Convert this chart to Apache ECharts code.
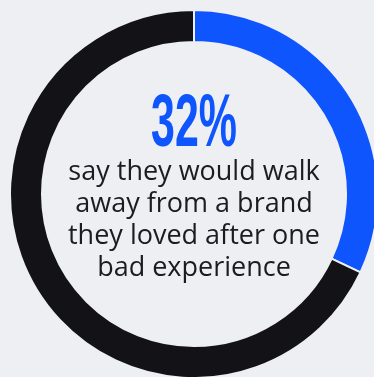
<!DOCTYPE html>
<html>
<head>
<meta charset="utf-8">
<script src="https://cdn.jsdelivr.net/npm/echarts@6/dist/echarts.min.js"></script>
<style>
  html, body { margin: 0; padding: 0; background: #edeff3; }
  #chart { width: 374px; height: 377px; }
</style>
</head>
<body>
<div id="chart"></div>
<script>
// Share of respondents who would leave a loved brand after one bad experience
const categories = ['Would walk away', 'Would stay'];
const shares = [32, 68];
const sliceColors = ['#0f55fd', '#131317'];
const captionLines = [
  'say they would walk',
  'away from a brand',
  'they loved after one',
  'bad experience'
];

const bg = '#edeff3';
const cx = 194, cy = 194;

const chart = echarts.init(document.getElementById('chart'), null, { renderer: 'canvas' });

chart.setOption({
  backgroundColor: bg,
  animation: false,
  series: [{
    type: 'pie',
    center: [cx, cy],
    radius: [152, 184],
    startAngle: 90,
    clockwise: true,
    silent: true,
    label: { show: false },
    labelLine: { show: false },
    itemStyle: { borderColor: bg, borderWidth: 2 },
    data: categories.map((name, i) => ({
      name,
      value: shares[i],
      itemStyle: { color: sliceColors[i] }
    }))
  }],
  graphic: [
    {
      type: 'text',
      x: cx,
      y: 126,
      scaleX: 0.58,
      originX: 0,
      style: {
        text: shares[0] + '%',
        fill: sliceColors[0],
        font: 'bold 74px "Liberation Sans", sans-serif',
        align: 'center',
        verticalAlign: 'middle'
      }
    },
    {
      type: 'text',
      x: cx,
      y: 220,
      style: {
        text: captionLines.join('\n'),
        fill: '#1b1b22',
        font: '27px "Open Sans", sans-serif',
        lineHeight: 32,
        align: 'center',
        verticalAlign: 'middle'
      }
    }
  ]
});
</script>
</body>
</html>
